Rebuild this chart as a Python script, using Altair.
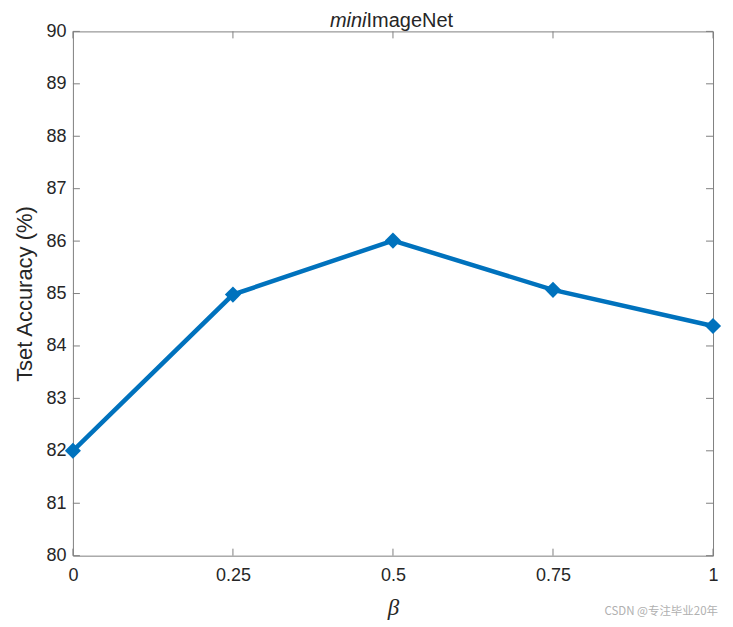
import altair as alt
import pandas as pd

betas = [0, 0.25, 0.5, 0.75, 1]
accuracy = [82.0, 84.98, 86.01, 85.07, 84.38]
x_ticks = [0, 0.25, 0.5, 0.75, 1]
y_ticks = [80, 81, 82, 83, 84, 85, 86, 87, 88, 89, 90]
title_italic = "mini"
title_normal = "ImageNet"
watermark = "CSDN @专注毕业20年"

W, H = 641, 525
TL = 7
BLUE = "#0072BD"
AX = "#262626"
FONT = "Liberation Sans"

df = pd.DataFrame({"beta": betas, "acc": accuracy})
df_y = pd.DataFrame({"acc": y_ticks})
df_x = pd.DataFrame({"beta": x_ticks})

xs = alt.Scale(domain=[0, 1], nice=False, zero=False)
ys = alt.Scale(domain=[80, 90], nice=False, zero=False)

x_enc = alt.X(
    "beta:Q", scale=xs,
    axis=alt.Axis(values=x_ticks, format="~g", tickSize=0, domain=False, grid=False,
                  labelFlush=False, labelOverlap=False,
                  labelPadding=11, labelFontSize=18, labelColor=AX, labelFont=FONT,
                  title="β", titleFont="Liberation Serif", titleFontStyle="italic",
                  titleFontWeight="normal", titleFontSize=23, titleColor=AX, titlePadding=12),
)
y_enc = alt.Y(
    "acc:Q", scale=ys,
    axis=alt.Axis(values=y_ticks, tickSize=0, domain=False, grid=False,
                  labelFlush=False, labelOverlap=False,
                  labelPadding=7, labelFontSize=18, labelColor=AX, labelFont=FONT,
                  title="Tset Accuracy (%)", titleFont=FONT, titleFontWeight="normal",
                  titleFontSize=22, titleColor=AX, titlePadding=9),
)
x_plain = alt.X("beta:Q", scale=xs)
y_plain = alt.Y("acc:Q", scale=ys)

line = alt.Chart(df).mark_line(color=BLUE, strokeWidth=4.5).encode(x=x_enc, y=y_enc)
pts = alt.Chart(df).mark_point(shape="diamond", filled=True, color=BLUE, size=260, opacity=1).encode(
    x=x_plain, y=y_plain)

tick_style = dict(color="#808080", strokeWidth=1)
left_t = alt.Chart(df_y).mark_rule(**tick_style).encode(
    y=y_plain, x=alt.value(0), x2=alt.value(TL))
right_t = alt.Chart(df_y).mark_rule(**tick_style).encode(
    y=y_plain, x=alt.value(W - TL), x2=alt.value(W))
bot_t = alt.Chart(df_x).mark_rule(**tick_style).encode(
    x=x_plain, y=alt.value(H - TL), y2=alt.value(H))
top_t = alt.Chart(df_x).mark_rule(**tick_style).encode(
    x=x_plain, y=alt.value(0), y2=alt.value(TL))

t1 = alt.Chart(pd.DataFrame({"t": [title_italic]})).mark_text(
    align="right", baseline="alphabetic", font=FONT, fontSize=20, fontStyle="italic", color=AX
).encode(text="t:N", x=alt.value(294), y=alt.value(-4.5))
t2 = alt.Chart(pd.DataFrame({"t": [title_normal]})).mark_text(
    align="left", baseline="alphabetic", font=FONT, fontSize=20, color=AX
).encode(text="t:N", x=alt.value(294), y=alt.value(-4.5))
wm = alt.Chart(pd.DataFrame({"t": [watermark]})).mark_text(
    align="right", baseline="middle", font="Noto Sans CJK SC", fontSize=11.5, color="#b0b0b0"
).encode(text="t:N", x=alt.value(646), y=alt.value(581))

chart = alt.layer(line, left_t, right_t, bot_t, top_t, pts, t1, t2, wm).properties(
    width=W, height=H,
    autosize=alt.AutoSizeParams(type="none"),
    padding={"left": 65, "top": 23, "right": 12, "bottom": 68},
    background="white",
).configure_view(stroke="#808080", strokeWidth=1)

chart.save("out.html", embed_options={"renderer": "svg", "actions": False})
